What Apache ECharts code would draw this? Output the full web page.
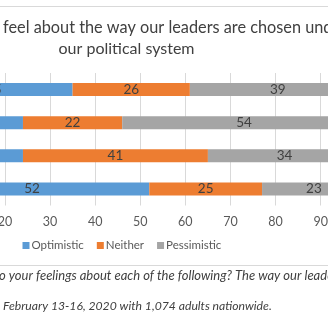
<!DOCTYPE html>
<html>
<head>
<meta charset="utf-8">
<script src="https://cdn.jsdelivr.net/npm/echarts@6/dist/echarts.min.js"></script>
<style>
html,body{margin:0;padding:0;background:#fff;}
#c{width:328px;height:328px;}
</style>
</head>
<body>
<div id="c"></div>
<script>
var categories = ["Group 1", "Group 2", "Group 3", "Group 4"];
var optimistic = [35, 24, 24, 52];
var neither = [26, 22, 41, 25];
var pessimistic = [39, 54, 34, 23];
var xTicks = [0, 10, 20, 30, 40, 50, 60, 70, 80, 90, 100];
var titleLine1 = "feel about the way our leaders are chosen under";
var titleLine2 = "our political system";
var note1 = "o your feelings about each of the following? The way our leaders";
var note2 = "February 13-16, 2020 with 1,074 adults nationwide.";

var FONT = "Lato";
var chart = echarts.init(document.getElementById('c'), null, {renderer: 'canvas'});
function ser(name, data, color) {
  return {
    name: name, type: 'bar', stack: 'all', data: data,
    barWidth: 13, clip: false,
    itemStyle: {color: color},
    label: {show: true, position: 'inside', color: '#404040', fontFamily: FONT, fontSize: 13.5},
    emphasis: {disabled: true}
  };
}
chart.setOption({
  animation: false,
  grid: {left: -85.3, right: -37.8, top: 73, height: 132.5, containLabel: false, outerBoundsMode: 'none'},
  xAxis: {
    type: 'value', min: xTicks[0], max: xTicks[xTicks.length - 1], interval: 10,
    axisLine: {show: false}, axisTick: {show: false},
    splitLine: {lineStyle: {color: '#d9d9d9', width: 1}},
    axisLabel: {color: '#595959', fontFamily: FONT, fontSize: 12.5, margin: 10}
  },
  yAxis: {
    type: 'category', data: categories, inverse: true,
    axisLine: {show: false}, axisTick: {show: false}, axisLabel: {show: false}
  },
  legend: {
    left: 22.5, top: 239.5, padding: 0, itemWidth: 7, itemHeight: 7, itemGap: 13, icon: 'rect',
    textStyle: {color: '#595959', fontFamily: FONT, fontSize: 11.5, padding: [0, 0, 0, -3]},
    data: ['Optimistic', 'Neither', 'Pessimistic']
  },
  graphic: [
    {type: 'line', shape: {x1: 0, y1: 6.5, x2: 328, y2: 6.5}, style: {stroke: '#d9d9d9', lineWidth: 1}},
    {type: 'line', shape: {x1: 0, y1: 265.5, x2: 328, y2: 265.5}, style: {stroke: '#d9d9d9', lineWidth: 1}},
    {type: 'text', x: 3, y: 28, style: {text: titleLine1, fill: '#404040', font: '16.3px ' + FONT, verticalAlign: 'middle'}},
    {type: 'text', x: 126.5, y: 48.5, style: {text: titleLine2, fill: '#404040', font: '16px ' + FONT, align: 'center', verticalAlign: 'middle'}},
    {type: 'text', x: -1, y: 275.5, style: {text: note1, fill: '#404040', font: 'italic 13px ' + FONT, verticalAlign: 'middle'}},
    {type: 'text', x: 3, y: 306, style: {text: note2, fill: '#404040', font: 'italic 12.2px ' + FONT, verticalAlign: 'middle'}}
  ],
  series: [
    ser('Optimistic', optimistic, '#5b9bd5'),
    ser('Neither', neither, '#ed7d31'),
    ser('Pessimistic', pessimistic, '#a5a5a5')
  ]
});
</script>
</body>
</html>
